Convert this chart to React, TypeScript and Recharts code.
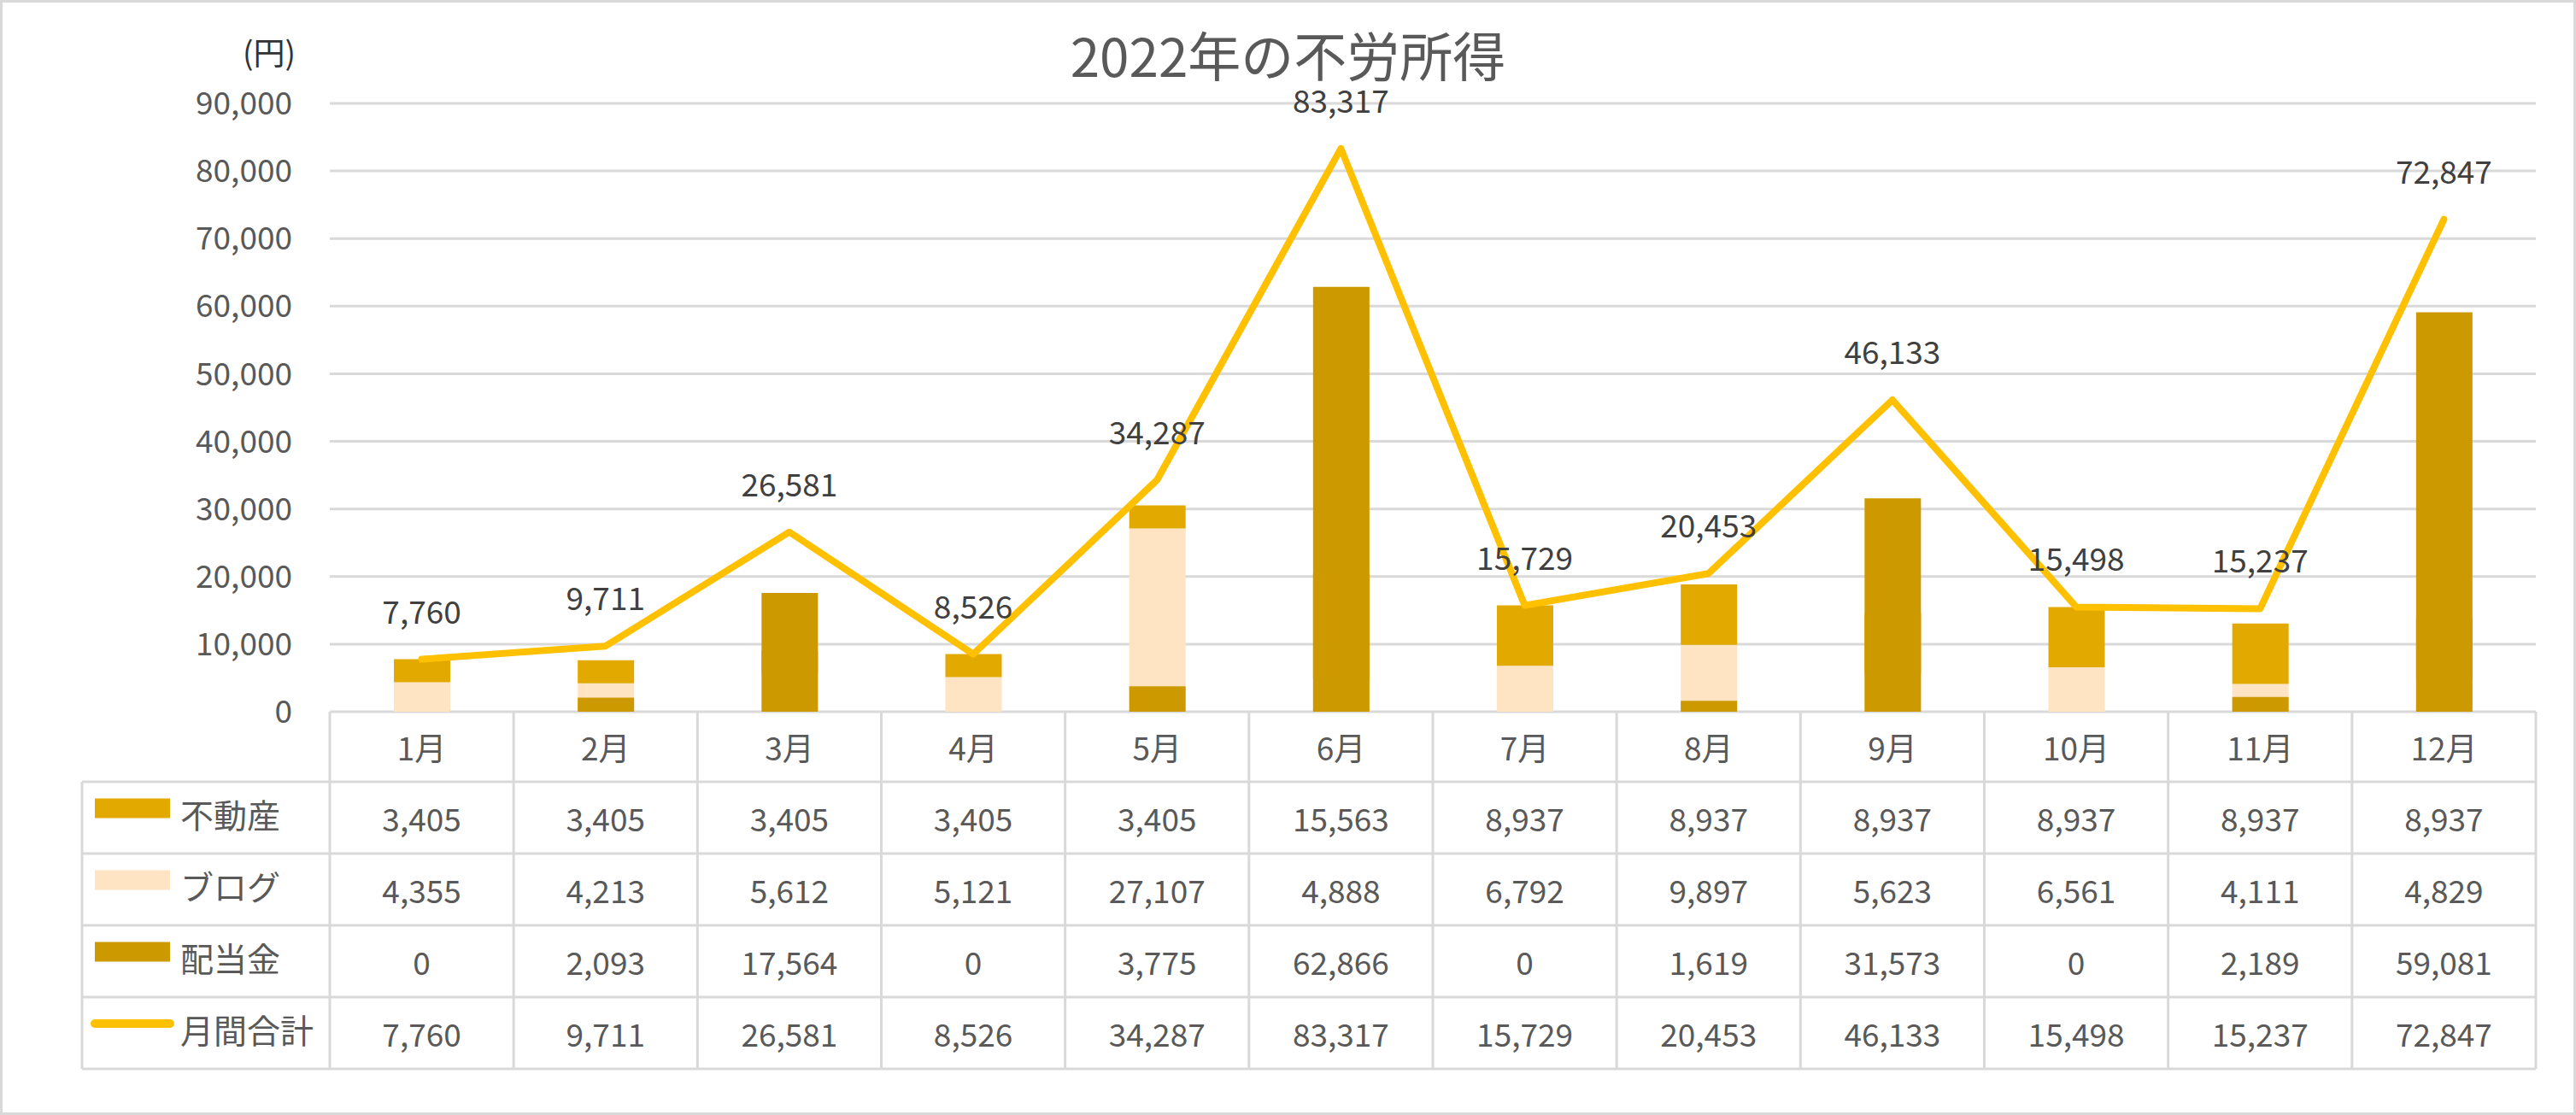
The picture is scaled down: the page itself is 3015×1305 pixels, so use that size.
import React from 'react';
import { ComposedChart, Bar, Line, XAxis, YAxis, CartesianGrid, LabelList } from 'recharts';

const months = ['1月', '2月', '3月', '4月', '5月', '6月', '7月', '8月', '9月', '10月', '11月', '12月'];
const fudosan = [3405, 3405, 3405, 3405, 3405, 15563, 8937, 8937, 8937, 8937, 8937, 8937];
const blog = [4355, 4213, 5612, 5121, 27107, 4888, 6792, 9897, 5623, 6561, 4111, 4829];
const haito = [0, 2093, 17564, 0, 3775, 62866, 0, 1619, 31573, 0, 2189, 59081];
const total = [7760, 9711, 26581, 8526, 34287, 83317, 15729, 20453, 46133, 15498, 15237, 72847];
const yTicks = [0, 10000, 20000, 30000, 40000, 50000, 60000, 70000, 80000, 90000];

const data = months.map((m, i) => ({
  month: m,
  不動産: fudosan[i],
  ブログ: blog[i],
  配当金: haito[i],
  月間合計: total[i],
}));

// table rows, same order as the Excel data table
const rows = [
  { name: '不動産', values: fudosan, color: '#E2AA00', kind: 'bar' },
  { name: 'ブログ', values: blog, color: '#FFE4C3', kind: 'bar' },
  { name: '配当金', values: haito, color: '#CC9A00', kind: 'bar' },
  { name: '月間合計', values: total, color: '#FFC000', kind: 'line' },
];

const W = 3015;
const H = 1305;
const PLOT_LEFT = 386;
const PLOT_RIGHT = 2968;
const PLOT_TOP = 121;
const PLOT_BOTTOM = 833;
const BAND = (PLOT_RIGHT - PLOT_LEFT) / months.length;
const BAR_W = 66;
const HEADER_H = 82;
const ROW_H = 84;
const TABLE_LEFT = 96;
const GRID = '#D9D9D9';
const TEXT = '#595959';
const FONT = '"Noto Sans CJK JP", "Noto Sans", sans-serif';
const FS = 37;

const fmt = (v: number) => v.toLocaleString('en-US');

function TableTick(props: any) {
  const { x, y, payload, index } = props;
  const left = x - BAND / 2;
  const right = x + BAND / 2;
  const bodyTop = y + HEADER_H;
  const bottom = bodyTop + rows.length * ROW_H;
  const last = index === months.length - 1;

  return (
    <g>
      <line x1={left} y1={y} x2={left} y2={bottom} stroke={GRID} strokeWidth={3} />
      {last && <line x1={right} y1={y} x2={right} y2={bottom} stroke={GRID} strokeWidth={3} />}
      {rows.map((r, k) => (
        <line key={'h' + k} x1={left} y1={bodyTop + k * ROW_H} x2={right} y2={bodyTop + k * ROW_H} stroke={GRID} strokeWidth={3} />
      ))}
      <line x1={left} y1={bottom} x2={right} y2={bottom} stroke={GRID} strokeWidth={3} />
      <text x={x} y={y + HEADER_H / 2} textAnchor="middle" dominantBaseline="central" fill={TEXT} fontSize={FS}>
        {payload.value}
      </text>
      {rows.map((r, k) => (
        <text key={'v' + k} x={x} y={bodyTop + k * ROW_H + ROW_H / 2} textAnchor="middle" dominantBaseline="central" fill={TEXT} fontSize={FS}>
          {fmt(r.values[index])}
        </text>
      ))}
      {index === 0 && (
        <g>
          {rows.map((r, k) => (
            <line key={'lh' + k} x1={TABLE_LEFT} y1={bodyTop + k * ROW_H} x2={left} y2={bodyTop + k * ROW_H} stroke={GRID} strokeWidth={3} />
          ))}
          <line x1={TABLE_LEFT} y1={bottom} x2={left} y2={bottom} stroke={GRID} strokeWidth={3} />
          <line x1={TABLE_LEFT} y1={bodyTop} x2={TABLE_LEFT} y2={bottom} stroke={GRID} strokeWidth={3} />
          {rows.map((r, k) => {
            const cy = bodyTop + k * ROW_H + ROW_H / 2;
            return (
              <g key={'lg' + k}>
                {r.kind === 'bar' ? (
                  <rect x={111} y={cy - 11 - 11.5} width={88} height={23} fill={r.color} />
                ) : (
                  <line x1={111} y1={cy - 11} x2={199} y2={cy - 11} stroke={r.color} strokeWidth={10} strokeLinecap="round" />
                )}
                <text x={211} y={cy - 5} dominantBaseline="central" fill={TEXT} fontSize={FS + 2}>
                  {r.name}
                </text>
              </g>
            );
          })}
        </g>
      )}
    </g>
  );
}

export default function App() {
  return (
    <div style={{ position: 'relative', width: W, height: H, background: '#fff', fontFamily: FONT }}>
      <style>{`body { margin: 0; }`}</style>
      <ComposedChart
        width={W}
        height={H}
        data={data}
        margin={{ top: PLOT_TOP, right: W - PLOT_RIGHT, bottom: 0, left: 0 }}
        barGap={-BAR_W}
      >
        <CartesianGrid vertical={false} stroke={GRID} strokeWidth={3} />
        <XAxis
          dataKey="month"
          axisLine={false}
          tickLine={false}
          tickSize={0}
          tickMargin={0}
          interval={0}
          height={H - PLOT_BOTTOM}
          tick={<TableTick />}
        />
        <YAxis
          width={PLOT_LEFT}
          domain={[0, 90000]}
          ticks={yTicks}
          axisLine={false}
          tickLine={false}
          tickSize={0}
          tickMargin={44}
          tickFormatter={fmt}
          tick={{ fill: TEXT, fontSize: FS }}
        />
        <Bar dataKey="ブログ" stackId="s" fill="#FFE4C3" barSize={BAR_W} isAnimationActive={false} />
        <Bar dataKey="不動産" stackId="s" fill="#E2AA00" barSize={BAR_W} isAnimationActive={false} />
        <Bar dataKey="配当金" fill="#CC9A00" barSize={BAR_W} isAnimationActive={false} />
        <Line
          dataKey="月間合計"
          stroke="#FFC000"
          strokeWidth={8}
          strokeLinecap="round"
          strokeLinejoin="round"
          dot={false}
          activeDot={false}
          isAnimationActive={false}
        >
          <LabelList dataKey="月間合計" position="top" offset={42} formatter={(v: any) => fmt(Number(v))} fill="#404040" fontSize={FS} />
        </Line>
      </ComposedChart>
      <div style={{ position: 'absolute', left: 0, top: 37, width: W, textAlign: 'center', fontSize: 62, lineHeight: '52px', color: TEXT }}>
        2022年の不労所得
      </div>
      <div style={{ position: 'absolute', left: 0, top: 40, width: 346, textAlign: 'right', fontSize: FS, lineHeight: '40px', color: '#333' }}>
        (円)
      </div>
      <div style={{ position: 'absolute', left: 0, top: 0, width: W, height: H, boxSizing: 'border-box', border: `3px solid ${GRID}`, pointerEvents: 'none' }} />
    </div>
  );
}
